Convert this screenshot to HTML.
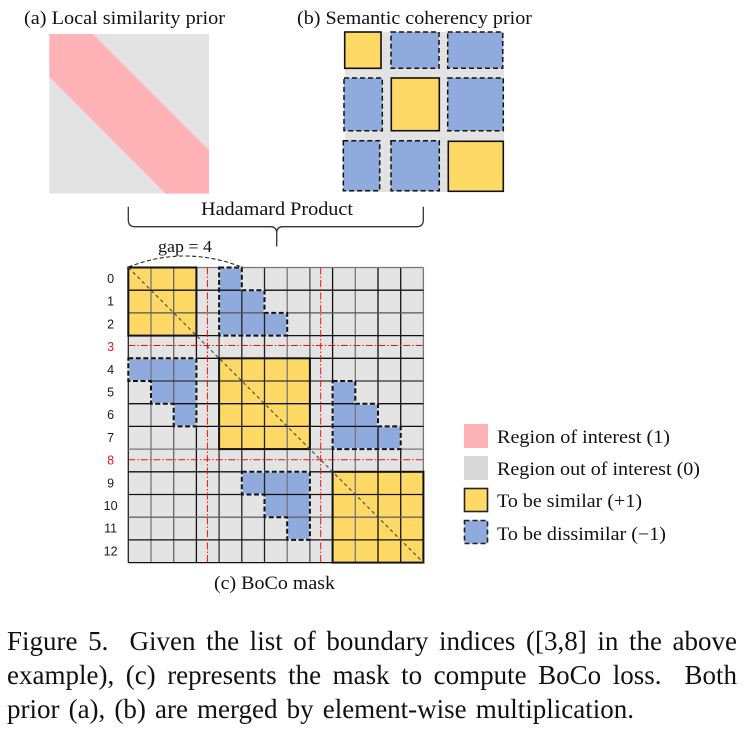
<!DOCTYPE html>
<html>
<head>
<meta charset="utf-8">
<style>
html,body{margin:0;padding:0;background:#fff;width:747px;height:735px;overflow:hidden}
svg{position:absolute;left:0;top:0}
text{font-family:"Liberation Serif",serif;fill:#111}
.r{font-family:"Liberation Sans",sans-serif;font-size:12.5px;text-anchor:middle;fill:#1a1a1a}
.l{font-size:18.5px}
.c{position:absolute;font-family:"Liberation Serif",serif;font-size:27px;line-height:34px;height:34px;color:#111;text-align:justify;text-align-last:justify;white-space:normal;overflow:visible}
</style>
</head>
<body>
<svg width="747" height="735" viewBox="0 0 747 735" xmlns="http://www.w3.org/2000/svg">
<text class="l" x="24" y="24" textLength="201" lengthAdjust="spacingAndGlyphs">(a) Local similarity prior</text>
<text class="l" x="297" y="24" textLength="235" lengthAdjust="spacingAndGlyphs">(b) Semantic coherency prior</text>

<rect x="49.3" y="34" width="159.7" height="159.6" fill="#e3e3e3"/>
<polygon points="49.3,34 92.7,34 209,150.3 209,193.6 165.7,193.6 49.3,76.7" fill="#ffb3b7"/>

<rect x="345" y="32" width="159" height="160" fill="#e3e3e3"/>
<g fill="#ffd966" stroke="#111" stroke-width="1.6">
<rect x="344.7" y="32" width="36.3" height="36.3"/>
<rect x="391.3" y="78" width="48" height="52.7"/>
<rect x="448.3" y="141.3" width="55" height="50"/>
</g>
<g fill="#8faadc" stroke="#111" stroke-width="1.5" stroke-dasharray="5 3">
<rect x="391" y="32" width="48" height="36.3"/>
<rect x="447.7" y="32" width="55" height="36.3"/>
<rect x="344" y="78" width="38.3" height="52.7"/>
<rect x="447.7" y="78" width="55.6" height="52.7"/>
<rect x="343.3" y="140.7" width="36.4" height="50"/>
<rect x="391" y="140.7" width="48.3" height="50"/>
</g>

<path d="M128.3 206.7V220Q128.3 226.7 135 226.7H270Q276.7 226.7 276.7 233V246.5M276.7 233Q276.7 226.7 283 226.7H416.6Q423.3 226.7 423.3 220V206.7" fill="none" stroke="#333" stroke-width="1.3"/>
<text class="l" x="201" y="215" textLength="152" lengthAdjust="spacingAndGlyphs">Hadamard Product</text>
<text x="158" y="252" font-size="17" textLength="54" lengthAdjust="spacingAndGlyphs">gap = 4</text>
<path d="M128.5 267Q185 245 241.5 267" fill="none" stroke="#222" stroke-width="1.1" stroke-dasharray="4 2.5"/>

<rect x="128.3" y="267.5" width="295.1" height="295.1" fill="#e4e4e4"/>
<g fill="#ffd966">
<rect x="128.3" y="267.5" width="68.1" height="68.1"/>
<rect x="219.1" y="358.3" width="90.8" height="90.8"/>
<rect x="332.6" y="471.8" width="90.8" height="90.8"/>
</g>
<g fill="#8faadc">
<polygon points="219.1,267.5 241.8,267.5 241.8,290.2 264.5,290.2 264.5,312.9 287.2,312.9 287.2,335.6 219.1,335.6"/>
<polygon points="128.3,358.3 196.4,358.3 196.4,426.4 173.7,426.4 173.7,403.7 151,403.7 151,381 128.3,381"/>
<polygon points="332.6,381 355.3,381 355.3,403.7 378,403.7 378,426.4 400.7,426.4 400.7,449.1 332.6,449.1"/>
<polygon points="241.8,471.8 309.9,471.8 309.9,539.9 287.2,539.9 287.2,517.2 264.5,517.2 264.5,494.5 241.8,494.5"/>
</g>
<g stroke-width="1.3" fill="none">
<path d="M128.3 267.5V562.6" stroke="#222"/>
<path d="M151 267.5V562.6" stroke="#777"/>
<path d="M173.7 267.5V562.6" stroke="#666"/>
<path d="M196.4 267.5V562.6" stroke="#111"/>
<path d="M219.1 267.5V562.6" stroke="#333"/>
<path d="M241.8 267.5V562.6" stroke="#222"/>
<path d="M264.5 267.5V562.6" stroke="#222"/>
<path d="M287.2 267.5V562.6" stroke="#777"/>
<path d="M309.9 267.5V562.6" stroke="#555"/>
<path d="M332.6 267.5V562.6" stroke="#111"/>
<path d="M355.3 267.5V562.6" stroke="#777"/>
<path d="M378 267.5V562.6" stroke="#111"/>
<path d="M400.7 267.5V562.6" stroke="#111"/>
<path d="M423.4 267.5V562.6" stroke="#777"/>
<path d="M128.3 267.5H423.4" stroke="#777"/>
<path d="M128.3 290.2H423.4" stroke="#111"/>
<path d="M128.3 312.9H423.4" stroke="#555"/>
<path d="M128.3 335.6H423.4" stroke="#111"/>
<path d="M128.3 358.3H423.4" stroke="#111"/>
<path d="M128.3 381H423.4" stroke="#333"/>
<path d="M128.3 403.7H423.4" stroke="#111"/>
<path d="M128.3 426.4H423.4" stroke="#111"/>
<path d="M128.3 449.1H423.4" stroke="#777"/>
<path d="M128.3 471.8H423.4" stroke="#111"/>
<path d="M128.3 494.5H423.4" stroke="#111"/>
<path d="M128.3 517.2H423.4" stroke="#666"/>
<path d="M128.3 539.9H423.4" stroke="#111"/>
<path d="M128.3 562.6H423.4" stroke="#111"/>
</g>
<g stroke="#f01010" stroke-width="1" stroke-dasharray="7 2 1.5 2" fill="none">
<path d="M207.4 267.5V562.6"/>
<path d="M320.7 267.5V562.6"/>
<path d="M128.3 345.5H423.4"/>
<path d="M128.3 459.7H423.4"/>
</g>
<g fill="none" stroke="#111" stroke-width="2">
<rect x="128.3" y="267.5" width="68.1" height="68.1"/>
<rect x="219.1" y="358.3" width="90.8" height="90.8"/>
<rect x="332.6" y="471.8" width="90.8" height="90.8"/>
</g>
<g fill="none" stroke="#dfe3ea" stroke-width="2">
<polygon points="219.1,267.5 241.8,267.5 241.8,290.2 264.5,290.2 264.5,312.9 287.2,312.9 287.2,335.6 219.1,335.6"/>
<polygon points="128.3,358.3 196.4,358.3 196.4,426.4 173.7,426.4 173.7,403.7 151,403.7 151,381 128.3,381"/>
<polygon points="332.6,381 355.3,381 355.3,403.7 378,403.7 378,426.4 400.7,426.4 400.7,449.1 332.6,449.1"/>
<polygon points="241.8,471.8 309.9,471.8 309.9,539.9 287.2,539.9 287.2,517.2 264.5,517.2 264.5,494.5 241.8,494.5"/>
</g>
<g fill="none" stroke="#111" stroke-width="2" stroke-dasharray="5 2.5">
<polygon points="219.1,267.5 241.8,267.5 241.8,290.2 264.5,290.2 264.5,312.9 287.2,312.9 287.2,335.6 219.1,335.6"/>
<polygon points="128.3,358.3 196.4,358.3 196.4,426.4 173.7,426.4 173.7,403.7 151,403.7 151,381 128.3,381"/>
<polygon points="332.6,381 355.3,381 355.3,403.7 378,403.7 378,426.4 400.7,426.4 400.7,449.1 332.6,449.1"/>
<polygon points="241.8,471.8 309.9,471.8 309.9,539.9 287.2,539.9 287.2,517.2 264.5,517.2 264.5,494.5 241.8,494.5"/>
</g>
<path d="M128.3 267.5L423.4 562.6" stroke="#444" stroke-width="1.1" stroke-dasharray="3.5 3" fill="none"/>

<text class="r" x="110.6" y="283">0</text>
<text class="r" x="110.6" y="305.7">1</text>
<text class="r" x="110.6" y="328.4">2</text>
<text class="r" x="110.6" y="351.1" style="fill:#e81818">3</text>
<text class="r" x="110.6" y="373.8">4</text>
<text class="r" x="110.6" y="396.5">5</text>
<text class="r" x="110.6" y="419.2">6</text>
<text class="r" x="110.6" y="441.9">7</text>
<text class="r" x="110.6" y="464.6" style="fill:#e81818">8</text>
<text class="r" x="110.6" y="487.3">9</text>
<text class="r" x="110.6" y="510">10</text>
<text class="r" x="110.6" y="532.7">11</text>
<text class="r" x="110.6" y="555.4">12</text>

<text class="l" x="214" y="589" textLength="121" lengthAdjust="spacingAndGlyphs">(c) BoCo mask</text>

<rect x="464" y="424" width="24" height="24" fill="#ffb3b7"/>
<rect x="464" y="456" width="24" height="24" fill="#d9d9d9"/>
<rect x="464.5" y="488.5" width="23" height="23" fill="#ffd966" stroke="#222" stroke-width="1.6"/>
<rect x="464.5" y="520.5" width="23" height="23" fill="#8faadc" stroke="#222" stroke-width="1.6" stroke-dasharray="5 3"/>
<text class="l" x="497" y="443" textLength="173" lengthAdjust="spacingAndGlyphs">Region of interest (1)</text>
<text class="l" x="497" y="475" textLength="203" lengthAdjust="spacingAndGlyphs">Region out of interest (0)</text>
<text class="l" x="497" y="507" textLength="145" lengthAdjust="spacingAndGlyphs">To be similar (+1)</text>
<text class="l" x="497" y="540" textLength="169" lengthAdjust="spacingAndGlyphs">To be dissimilar (−1)</text>
</svg>
<div class="c" style="left:7px;top:624px;width:730px">Figure 5. &nbsp;Given the list of boundary indices ([3,8] in the above</div>
<div class="c" style="left:7px;top:658px;width:730px">example), (c) represents the mask to compute BoCo loss. &nbsp;Both</div>
<div class="c" style="left:7px;top:692px;width:627px">prior (a), (b) are merged by element-wise multiplication.</div>
</body>
</html>
